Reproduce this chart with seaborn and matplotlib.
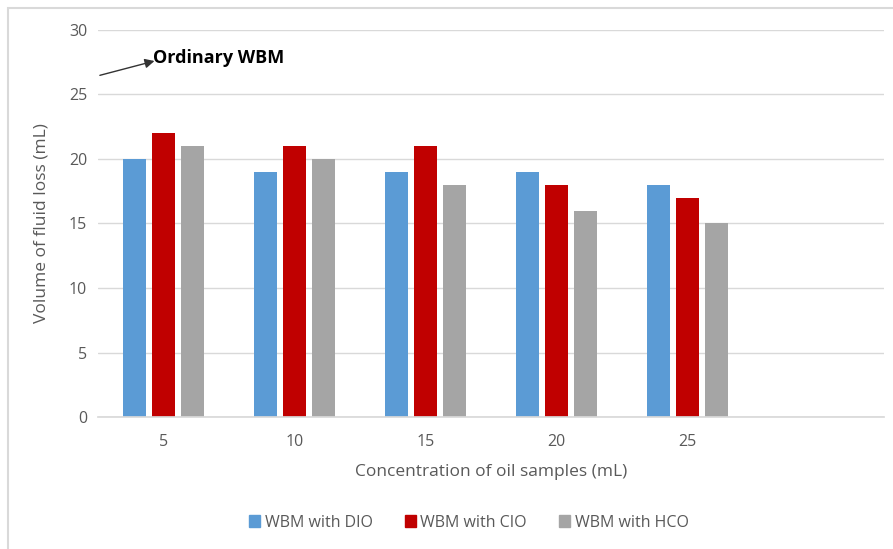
import numpy as np
import pandas as pd
import matplotlib.pyplot as plt
import seaborn as sns
from matplotlib.patches import Rectangle

sns.set_theme(style="white")
plt.rcParams["font.family"] = ["Open Sans", "DejaVu Sans"]

# data
concentrations = ["5", "10", "15", "20", "25", ""]
dio = [20, 19, 19, 19, 18, np.nan]
cio = [22, 21, 21, 18, 17, np.nan]
hco = [21, 20, 18, 16, 15, np.nan]
series = ["WBM with DIO", "WBM with CIO", "WBM with HCO"]
colors = ["#5b9bd5", "#c00000", "#a5a5a5"]

df = pd.DataFrame({"conc": concentrations, series[0]: dio, series[1]: cio, series[2]: hco})
long = df.melt(id_vars="conc", var_name="series", value_name="loss")

GRAY = "#595959"

fig = plt.figure(figsize=(8.93, 5.49), dpi=100)
ax = fig.add_axes([0.110, 0.2404, 0.880, 0.7050])

sns.barplot(
    data=long, x="conc", y="loss", hue="series", order=concentrations,
    hue_order=series, palette=colors, width=0.664, gap=0.2,
    saturation=1, linewidth=0, ax=ax, legend=True,
)

ax.set_ylim(0, 30)
ax.set_yticks(range(0, 31, 5))
ax.set_xlim(-0.5, 5.5)
ax.yaxis.grid(True, color="#d9d9d9", lw=1)
ax.set_axisbelow(True)
for s in ["top", "right", "left"]:
    ax.spines[s].set_visible(False)
ax.spines["bottom"].set_color("#d9d9d9")
ax.tick_params(axis="both", colors=GRAY, labelsize=11.5, length=0, pad=8)
ax.tick_params(axis="x", pad=12)
ax.set_xlabel("Concentration of oil samples (mL)", color=GRAY, fontsize=12.5, labelpad=10)
ax.set_ylabel("Volume of fluid loss (mL)", color=GRAY, fontsize=12.5, labelpad=14)

ax.annotate(
    "", xy=(-0.05, 27.65), xytext=(-0.508, 26.43),
    arrowprops=dict(arrowstyle="-|>", color="#333333", lw=1, mutation_scale=14),
    annotation_clip=False,
)
ax.text(-0.08, 27.8, "Ordinary WBM", fontsize=13, fontweight="bold",
        color="black", va="center", ha="left")

ax.legend_.remove()
handles = [Rectangle((0, 0), 1, 1, color=c) for c in colors]
fig.legend(handles, series, loc="center", bbox_to_anchor=(0.525, 0.048), ncol=3,
           frameon=False, fontsize=11.5, labelcolor=GRAY, handlelength=0.7,
           handleheight=0.7, handletextpad=0.3, columnspacing=2.0)

fig.patches.append(Rectangle((8 / 893, -0.1), 1.2, 1.1 - 8 / 549,
                             transform=fig.transFigure, fill=False,
                             edgecolor="#d9d9d9", lw=1.5))

fig.savefig("out.png", dpi=100)
